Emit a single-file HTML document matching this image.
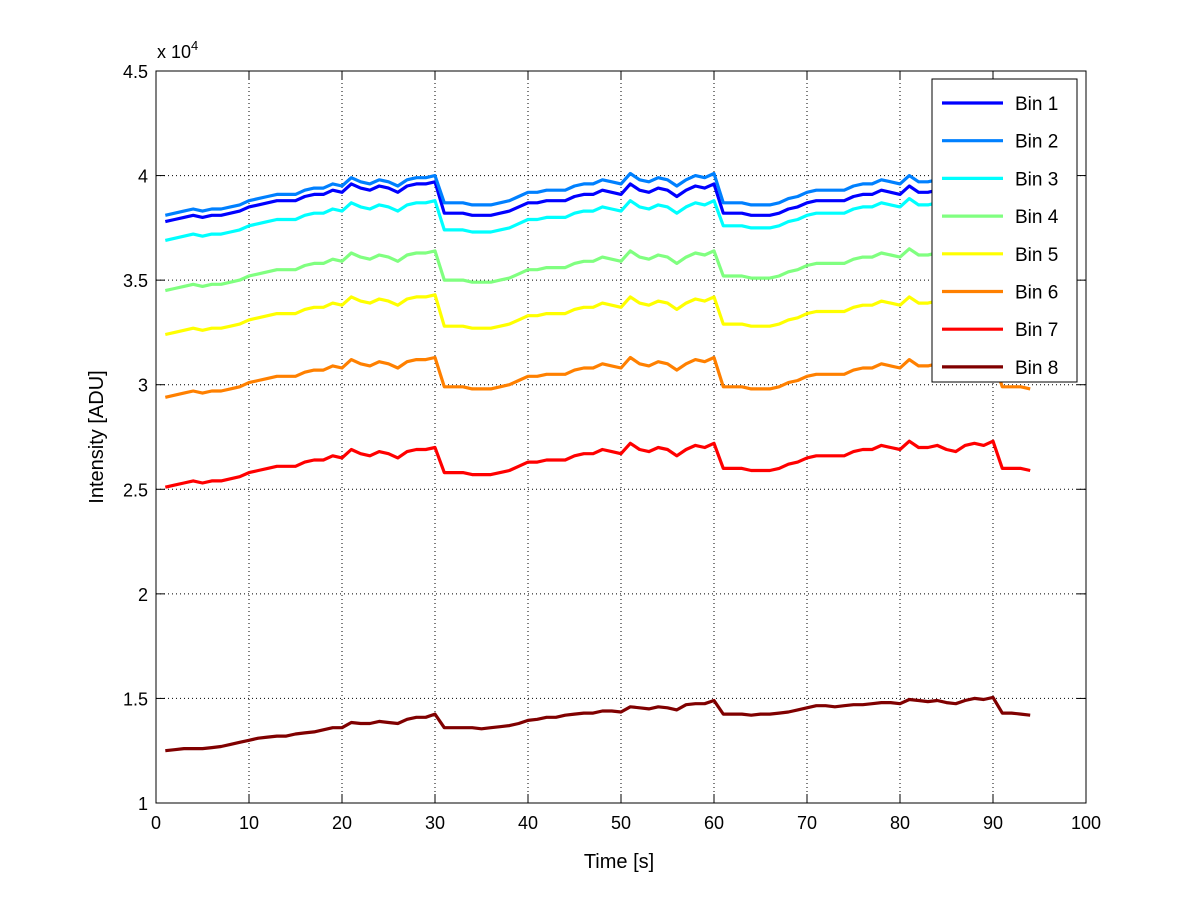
<!DOCTYPE html>
<html><head><meta charset="utf-8"><style>
body{margin:0;background:#fff;}
svg text{font-family:"Liberation Sans",sans-serif;fill:#000;}
</style></head><body>
<svg id="chart" width="1200" height="901" xmlns="http://www.w3.org/2000/svg">
<rect x="0" y="0" width="1200" height="901" fill="#fff"/>
<g id="grid"></g>
<g id="series"></g>
<rect x="156" y="71" width="930" height="732" fill="none" stroke="#000" stroke-width="1"/>
<g id="ticks"></g>
<text x="157" y="58" font-size="18">x 10<tspan dy="-8" font-size="13">4</tspan></text>
<text x="619" y="868" font-size="20" text-anchor="middle">Time [s]</text>
<text transform="translate(103,437) rotate(-90)" font-size="20" text-anchor="middle">Intensity [ADU]</text>
<g id="legend"></g>
</svg>
<script>
const xTicks=[0,10,20,30,40,50,60,70,80,90,100];
const yTicks=[1,1.5,2,2.5,3,3.5,4,4.5];
const yTickLabels=["1","1.5","2","2.5","3","3.5","4","4.5"];
const seriesNames=["Bin 1","Bin 2","Bin 3","Bin 4","Bin 5","Bin 6","Bin 7","Bin 8"];
const seriesColors=["#0000ff","#0080ff","#00ffff","#80ff80","#ffff00","#ff8000","#ff0000","#800000"];
const bin1=[3.78,3.79,3.80,3.81,3.80,3.81,3.81,3.82,3.83,3.85,3.86,3.87,3.88,3.88,3.88,3.90,3.91,3.91,3.93,3.92,3.96,3.94,3.93,3.95,3.94,3.92,3.95,3.96,3.96,3.97,
3.82,3.82,3.82,3.81,3.81,3.81,3.82,3.83,3.85,3.87,3.87,3.88,3.88,3.88,3.90,3.91,3.91,3.93,3.92,3.91,3.96,3.93,3.92,3.94,3.93,3.90,3.93,3.95,3.94,3.96,
3.82,3.82,3.82,3.81,3.81,3.81,3.82,3.84,3.85,3.87,3.88,3.88,3.88,3.88,3.90,3.91,3.91,3.93,3.92,3.91,3.95,3.92,3.92,3.93,3.91,3.90,3.93,3.94,3.93,3.95,
3.82,3.82,3.82,3.81];
const bin2=[3.81,3.82,3.83,3.84,3.83,3.84,3.84,3.85,3.86,3.88,3.89,3.90,3.91,3.91,3.91,3.93,3.94,3.94,3.96,3.95,3.99,3.97,3.96,3.98,3.97,3.95,3.98,3.99,3.99,4.00,
3.87,3.87,3.87,3.86,3.86,3.86,3.87,3.88,3.90,3.92,3.92,3.93,3.93,3.93,3.95,3.96,3.96,3.98,3.97,3.96,4.01,3.98,3.97,3.99,3.98,3.95,3.98,4.00,3.99,4.01,
3.87,3.87,3.87,3.86,3.86,3.86,3.87,3.89,3.90,3.92,3.93,3.93,3.93,3.93,3.95,3.96,3.96,3.98,3.97,3.96,4.00,3.97,3.97,3.98,3.96,3.95,3.98,3.99,3.98,4.00,
3.87,3.87,3.87,3.86];
const bin3=[3.69,3.70,3.71,3.72,3.71,3.72,3.72,3.73,3.74,3.76,3.77,3.78,3.79,3.79,3.79,3.81,3.82,3.82,3.84,3.83,3.87,3.85,3.84,3.86,3.85,3.83,3.86,3.87,3.87,3.88,
3.74,3.74,3.74,3.73,3.73,3.73,3.74,3.75,3.77,3.79,3.79,3.80,3.80,3.80,3.82,3.83,3.83,3.85,3.84,3.83,3.88,3.85,3.84,3.86,3.85,3.82,3.85,3.87,3.86,3.88,
3.76,3.76,3.76,3.75,3.75,3.75,3.76,3.78,3.79,3.81,3.82,3.82,3.82,3.82,3.84,3.85,3.85,3.87,3.86,3.85,3.89,3.86,3.86,3.87,3.85,3.84,3.87,3.88,3.87,3.89,
3.76,3.76,3.76,3.75];
const bin4=[3.45,3.46,3.47,3.48,3.47,3.48,3.48,3.49,3.50,3.52,3.53,3.54,3.55,3.55,3.55,3.57,3.58,3.58,3.60,3.59,3.63,3.61,3.60,3.62,3.61,3.59,3.62,3.63,3.63,3.64,
3.50,3.50,3.50,3.49,3.49,3.49,3.50,3.51,3.53,3.55,3.55,3.56,3.56,3.56,3.58,3.59,3.59,3.61,3.60,3.59,3.64,3.61,3.60,3.62,3.61,3.58,3.61,3.63,3.62,3.64,
3.52,3.52,3.52,3.51,3.51,3.51,3.52,3.54,3.55,3.57,3.58,3.58,3.58,3.58,3.60,3.61,3.61,3.63,3.62,3.61,3.65,3.62,3.62,3.63,3.61,3.60,3.63,3.64,3.63,3.65,
3.52,3.52,3.52,3.51];
const bin5=[3.24,3.25,3.26,3.27,3.26,3.27,3.27,3.28,3.29,3.31,3.32,3.33,3.34,3.34,3.34,3.36,3.37,3.37,3.39,3.38,3.42,3.40,3.39,3.41,3.40,3.38,3.41,3.42,3.42,3.43,
3.28,3.28,3.28,3.27,3.27,3.27,3.28,3.29,3.31,3.33,3.33,3.34,3.34,3.34,3.36,3.37,3.37,3.39,3.38,3.37,3.42,3.39,3.38,3.40,3.39,3.36,3.39,3.41,3.40,3.42,
3.29,3.29,3.29,3.28,3.28,3.28,3.29,3.31,3.32,3.34,3.35,3.35,3.35,3.35,3.37,3.38,3.38,3.40,3.39,3.38,3.42,3.39,3.39,3.40,3.38,3.37,3.40,3.41,3.40,3.42,
3.29,3.29,3.29,3.28];
const bin6=[2.94,2.95,2.96,2.97,2.96,2.97,2.97,2.98,2.99,3.01,3.02,3.03,3.04,3.04,3.04,3.06,3.07,3.07,3.09,3.08,3.12,3.10,3.09,3.11,3.10,3.08,3.11,3.12,3.12,3.13,
2.99,2.99,2.99,2.98,2.98,2.98,2.99,3.00,3.02,3.04,3.04,3.05,3.05,3.05,3.07,3.08,3.08,3.10,3.09,3.08,3.13,3.10,3.09,3.11,3.10,3.07,3.10,3.12,3.11,3.13,
2.99,2.99,2.99,2.98,2.98,2.98,2.99,3.01,3.02,3.04,3.05,3.05,3.05,3.05,3.07,3.08,3.08,3.10,3.09,3.08,3.12,3.09,3.09,3.10,3.08,3.07,3.10,3.11,3.10,3.12,
2.99,2.99,2.99,2.98];
const bin7=[2.51,2.52,2.53,2.54,2.53,2.54,2.54,2.55,2.56,2.58,2.59,2.60,2.61,2.61,2.61,2.63,2.64,2.64,2.66,2.65,2.69,2.67,2.66,2.68,2.67,2.65,2.68,2.69,2.69,2.70,
2.58,2.58,2.58,2.57,2.57,2.57,2.58,2.59,2.61,2.63,2.63,2.64,2.64,2.64,2.66,2.67,2.67,2.69,2.68,2.67,2.72,2.69,2.68,2.70,2.69,2.66,2.69,2.71,2.70,2.72,
2.60,2.60,2.60,2.59,2.59,2.59,2.60,2.62,2.63,2.65,2.66,2.66,2.66,2.66,2.68,2.69,2.69,2.71,2.70,2.69,2.73,2.70,2.70,2.71,2.69,2.68,2.71,2.72,2.71,2.73,
2.60,2.60,2.60,2.59];
const bin8=[1.25,1.255,1.26,1.26,1.26,1.265,1.27,1.28,1.29,1.30,1.31,1.315,1.32,1.32,1.33,1.335,1.34,1.35,1.36,1.36,1.385,1.38,1.38,1.39,1.385,1.38,1.40,1.41,1.41,1.425,
1.36,1.36,1.36,1.36,1.355,1.36,1.365,1.37,1.38,1.395,1.40,1.41,1.41,1.42,1.425,1.43,1.43,1.44,1.44,1.435,1.46,1.455,1.45,1.46,1.455,1.445,1.47,1.475,1.475,1.49,
1.425,1.425,1.425,1.42,1.425,1.425,1.43,1.435,1.445,1.455,1.465,1.465,1.46,1.465,1.47,1.47,1.475,1.48,1.48,1.475,1.495,1.49,1.485,1.49,1.48,1.475,1.49,1.50,1.495,1.505,
1.43,1.43,1.425,1.42];
const allSeries=[bin1,bin2,bin3,bin4,bin5,bin6,bin7,bin8];

const NS="http://www.w3.org/2000/svg";
const X0=156,X1=1086,Y0=803,Y1=71;
function xs(v){return X0+(v-0)/(100-0)*(X1-X0);}
function ys(v){return Y0-(v-1)/(4.5-1)*(Y0-Y1);}
function mk(tag,attrs,parent){const e=document.createElementNS(NS,tag);for(const k in attrs)e.setAttribute(k,attrs[k]);parent.appendChild(e);return e;}
const grid=document.getElementById('grid'),ticks=document.getElementById('ticks');
xTicks.forEach((t,i)=>{
  const x=xs(t);
  if(i>0&&i<xTicks.length-1){const g=mk('line',{x1:x,x2:x,y1:Y1,y2:Y0,stroke:'#000','stroke-width':1,'stroke-dasharray':'1,3'},grid);
  
  }
  const a=mk('line',{x1:x,x2:x,y1:Y0,y2:Y0-9,stroke:'#000'},ticks);
  
  
  const b=mk('line',{x1:x,x2:x,y1:Y1,y2:Y1+9,stroke:'#000'},ticks);
  
  
  const tx=mk('text',{x:x,y:Y0+26,'font-size':18,'text-anchor':'middle'},ticks);
  tx.textContent=String(t);
  
  
});
yTicks.forEach((t,i)=>{
  const y=ys(t);
  if(i>0&&i<yTicks.length-1){const g=mk('line',{x1:X0,x2:X1,y1:y,y2:y,stroke:'#000','stroke-width':1,'stroke-dasharray':'1,3'},grid);
  
  }
  const a=mk('line',{x1:X0,x2:X0+9,y1:y,y2:y,stroke:'#000'},ticks);
  
  
  const b=mk('line',{x1:X1,x2:X1-9,y1:y,y2:y,stroke:'#000'},ticks);
  
  
  const tx=mk('text',{x:X0-8,y:y+7,'font-size':18,'text-anchor':'end'},ticks);
  tx.textContent=yTickLabels[i];
  
  
});
const sg=document.getElementById('series');
allSeries.forEach((arr,si)=>{
  const pts=arr.map((v,i)=>xs(i+1).toFixed(1)+','+ys(v).toFixed(1)).join(' ');
  const p=mk('polyline',{points:pts,fill:'none',stroke:seriesColors[si],'stroke-width':3.2,'stroke-linejoin':'round'},sg);
  
  
});
const lg=document.getElementById('legend');
const box=mk('rect',{x:932,y:79,width:145,height:303,fill:'#fff',stroke:'#000','stroke-width':1},lg);


seriesNames.forEach((n,i)=>{
  const y=103+i*37.7;
  const l=mk('line',{x1:942,x2:1003,y1:y,y2:y,stroke:seriesColors[i],'stroke-width':3.2},lg);
  
  
  const t=mk('text',{x:1015,y:y+7,'font-size':19},lg);
  t.textContent=n;
  
  
});
</script>
</body></html>
